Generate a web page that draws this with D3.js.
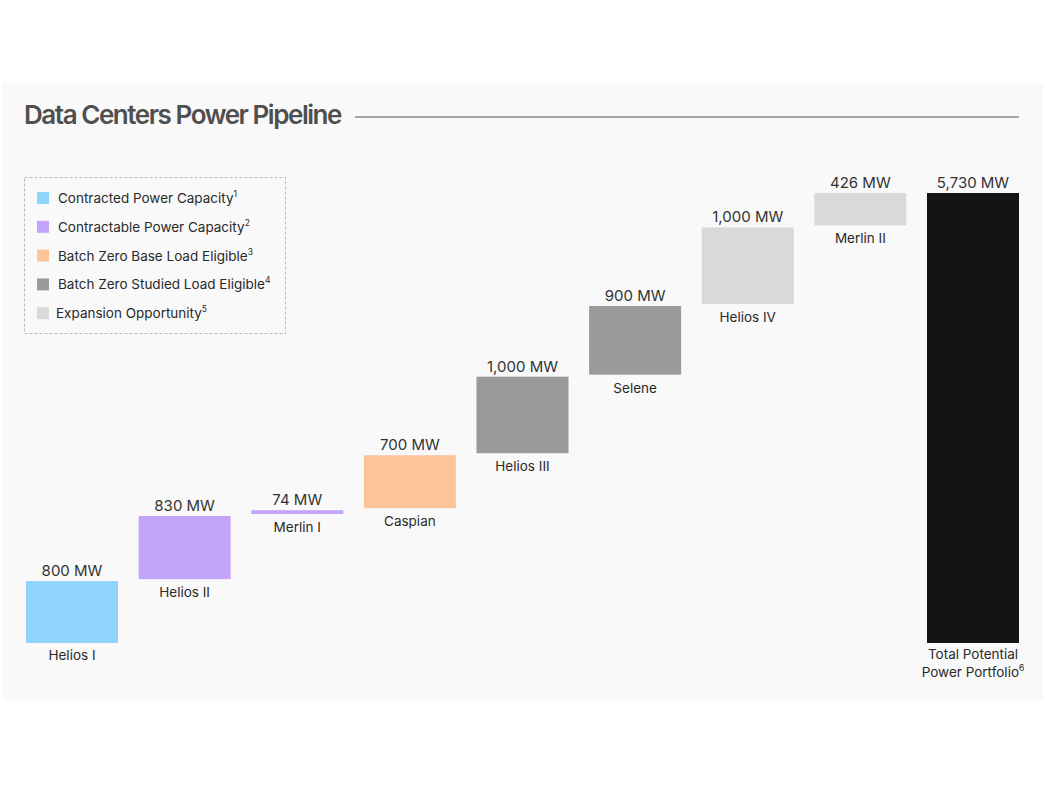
<!DOCTYPE html>
<html>
<head>
<meta charset="utf-8">
<script src="https://cdn.jsdelivr.net/npm/d3@7"></script>
<style>
  html, body { margin: 0; padding: 0; background: #fff; }
  body { width: 1047px; height: 785px; overflow: hidden; font-family: Inter, "Noto Sans", sans-serif; }
</style>
</head>
<body>
<div id="chart"></div>
<script>
// waterfall data
const categories = ["Helios I", "Helios II", "Merlin I", "Caspian", "Helios III", "Selene", "Helios IV", "Merlin II", "Total"];
const values = [800, 830, 74, 700, 1000, 900, 1000, 426, 5730];
const groups = [0, 1, 1, 2, 3, 3, 4, 4, 5];

const legendLabels = [
  "Contracted Power Capacity",
  "Contractable Power Capacity",
  "Batch Zero Base Load Eligible",
  "Batch Zero Studied Load Eligible",
  "Expansion Opportunity"
];
const legendNotes = ["1", "2", "3", "4", "5"];
const groupColors = ["#8fd4fb", "#c4a4f9", "#fdc49a", "#9a9a9a", "#d9d9d9", "#141414"];

const width = 1047;
const height = 785;

const svg = d3.select("#chart")
  .append("svg")
  .attr("width", width)
  .attr("height", height);

// panel
svg.append("rect")
  .attr("x", 2)
  .attr("y", 83)
  .attr("width", 1041)
  .attr("height", 617)
  .attr("fill", "#f9f9f9");

// title and rule
svg.append("text")
  .attr("x", 24)
  .attr("y", 124)
  .attr("font-size", 26)
  .attr("font-weight", 600)
  .attr("letter-spacing", -1.45)
  .attr("fill", "#4f4f4f")
  .text("Data Centers Power Pipeline");

svg.append("line")
  .attr("x1", 355).attr("x2", 1019)
  .attr("y1", 117).attr("y2", 117)
  .attr("stroke", "#555")
  .attr("stroke-width", 1);

// legend
const legend = svg.append("g");
legend.append("rect")
  .attr("x", 24.5)
  .attr("y", 177.5)
  .attr("width", 261)
  .attr("height", 156)
  .attr("fill", "none")
  .attr("stroke", "#bbb")
  .attr("stroke-dasharray", "3,2");

const legendItems = legend.selectAll("g.item")
  .data(legendLabels)
  .enter()
  .append("g")
  .attr("class", "item")
  .attr("transform", (d, i) => `translate(37, ${198 + i * 28.8})`);

legendItems.append("rect")
  .attr("x", 0)
  .attr("y", -6)
  .attr("width", 12)
  .attr("height", 12)
  .attr("fill", (d, i) => groupColors[i]);

const legendText = legendItems.append("text")
  .attr("x", (d, i) => i === 4 ? 19 : 21)
  .attr("y", 5)
  .attr("font-size", 13.5)
  .attr("fill", "#2a2a2a")
  .text(d => d);

legendText.append("tspan")
  .attr("font-size", 8.5)
  .attr("dy", -6)
  .text((d, i) => legendNotes[i]);

// scales
const x = d3.scaleBand()
  .domain(categories)
  .range([26, 1019])
  .paddingInner(0.183)
  .paddingOuter(0);

const y = d3.scaleLinear()
  .domain([0, 5730])
  .range([643, 193]);

// running totals for the floating bars
let running = 0;
const bars = categories.map((c, i) => {
  const isTotal = i === categories.length - 1;
  const start = isTotal ? 0 : running;
  const end = isTotal ? values[i] : running + values[i];
  if (!isTotal) running = end;
  return { name: c, value: values[i], start, end, group: groups[i], isTotal };
});

const fmt = d3.format(",");

const barG = svg.append("g")
  .selectAll("g")
  .data(bars)
  .enter()
  .append("g");

// small 1px gaps between the steps, like the original
const gap = d => (d.isTotal || d.end === 5730 ? 0 : 1);

barG.append("rect")
  .attr("x", d => x(d.name))
  .attr("y", d => y(d.end) + gap(d))
  .attr("width", x.bandwidth())
  .attr("height", d => Math.max(1, y(d.start) - y(d.end) - gap(d) - (d.start > 0 ? 1 : 0)))
  .attr("fill", d => groupColors[d.group]);

barG.append("text")
  .attr("x", d => x(d.name) + x.bandwidth() / 2)
  .attr("y", d => y(d.end) + gap(d) - 5)
  .attr("text-anchor", "middle")
  .attr("font-size", 15)
  .attr("fill", "#333")
  .text(d => fmt(d.value) + " MW");

barG.filter(d => !d.isTotal)
  .append("text")
  .attr("x", d => x(d.name) + x.bandwidth() / 2)
  .attr("y", d => y(d.start) + 17)
  .attr("text-anchor", "middle")
  .attr("font-size", 13.5)
  .attr("fill", "#2a2a2a")
  .text(d => d.name);

// total label on two lines
const totalBar = bars[bars.length - 1];
const totalLabel = svg.append("text")
  .attr("x", x(totalBar.name) + x.bandwidth() / 2)
  .attr("y", y(0) + 16)
  .attr("text-anchor", "middle")
  .attr("font-size", 13.5)
  .attr("fill", "#2a2a2a");

totalLabel.append("tspan")
  .attr("x", x(totalBar.name) + x.bandwidth() / 2)
  .text("Total Potential");

totalLabel.append("tspan")
  .attr("x", x(totalBar.name) + x.bandwidth() / 2)
  .attr("dy", 18)
  .text("Power Portfolio");

totalLabel.append("tspan")
  .attr("font-size", 8.5)
  .attr("dy", -6)
  .text("6");
</script>
</body>
</html>
